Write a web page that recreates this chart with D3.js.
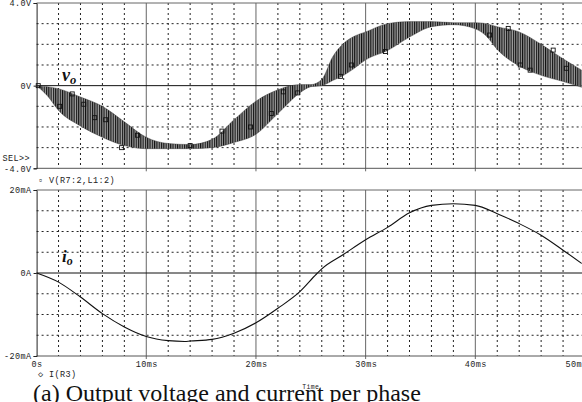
<!DOCTYPE html>
<html>
<head>
<meta charset="utf-8">
<script src="https://cdn.jsdelivr.net/npm/d3@7"></script>
<style>
  body { margin: 0; background: #fff; }
  svg { display: block; }
  .lbl { font-family: "Liberation Mono", monospace; font-size: 8.5px; fill: #222; letter-spacing: 0.4px; }
</style>
</head>
<body>
<div id="chart"></div>
<script>
// --- data ---
// voltage band: upper / lower envelope of the PWM ripple (V) at these times (ms)
const envT     = [0, 1, 2, 4, 6, 8, 10, 12, 14, 16, 18, 20, 22, 24, 25, 26, 27, 28, 29, 30, 32, 34, 36, 38, 40, 41, 42, 44, 46, 48, 49.7];
const envUpper = [0, -0.05, -0.15, -0.55, -1.0, -1.75, -2.5, -2.8, -2.85, -2.6, -1.65, -0.75, -0.2, 0.05, 0.05, 0.3, 1.4, 2.05, 2.4, 2.6, 3.0, 3.1, 3.1, 3.05, 3.05, 3.0, 2.85, 2.6, 2.0, 1.3, 0.75];
const envLower = [0, -0.5, -1.2, -1.95, -2.5, -2.9, -3.05, -3.05, -3.05, -3.0, -2.75, -2.35, -1.35, -0.35, -0.05, 0, 0.25, 0.5, 0.85, 1.25, 1.7, 2.35, 2.85, 2.95, 2.75, 2.4, 1.75, 0.95, 0.5, 0.2, -0.08];

// PSpice trace markers on V(R7:2,L1:2)
const vMarkT = [0.15, 2.1, 3.25, 4.3, 5.3, 6.3, 7.75, 9.2, 14, 16.9, 19.5, 21.4, 22.5, 23.8, 27.7, 28.7, 31.8, 41.3, 43, 44.1, 45, 47.1, 48.3];
const vMarkV = [0, -1.0, -0.4, -0.9, -1.55, -1.65, -3.0, -2.4, -2.9, -2.2, -2.0, -1.35, -0.3, -0.35, 0.45, 1.0, 1.65, 2.45, 2.77, 1.0, 0.75, 1.72, 0.84];

// output current I(R3) in mA
const curT = [0, 2, 4, 6, 8, 10, 12, 13.5, 14, 16, 18, 20, 22, 24, 25.5, 26, 28, 30, 32, 34, 36, 38, 40, 42, 44, 46, 48, 49.7];
const curI = [0, -2.2, -5.8, -9.8, -13, -15.3, -16.3, -16.5, -16.4, -16, -14.5, -12, -8.5, -4.5, -0.3, 1, 4.5, 8, 11, 14.5, 16.3, 16.7, 16.3, 14.3, 11.9, 9.1, 5.5, 2.3];

// tick values / labels
const timeTicks  = [0, 10, 20, 30, 40, 50];
const timeLabels = ['0s', '10ms', '20ms', '30ms', '40ms', '50ms'];
const vTicks  = [-4, 0, 4];
const vLabels = ['-4.0V', '0V', '4.0V'];
const iTicks  = [-20, 0, 20];
const iLabels = ['-20mA', '0A', '20mA'];

const W = 582, H = 402;
const svg = d3.select('#chart').append('svg').attr('width', W).attr('height', H);

const x  = d3.scaleLinear().domain([0, 50]).range([36.6, 585]);
const yV = d3.scaleLinear().domain([-4, 4]).range([168.3, 3]);
const yI = d3.scaleLinear().domain([-20, 20]).range([356, 190]);

// ripple hatch for the voltage band
const defs = svg.append('defs');
const pat = defs.append('pattern').attr('id', 'ripple')
  .attr('patternUnits', 'userSpaceOnUse').attr('width', 2.3).attr('height', 6);
pat.append('rect').attr('width', 2.3).attr('height', 6).attr('fill', '#9c9c9c');
pat.append('rect').attr('width', 1.1).attr('height', 6).attr('fill', '#111');

function panel(y, minorStep) {
  const [y0, y1] = y.range();   // bottom, top
  const g = svg.append('g');
  // dashed grid
  const vMinor = x.ticks(25).filter(d => d % 10 !== 0);
  g.selectAll('.vg').data(vMinor).join('line')
    .attr('x1', d => x(d)).attr('x2', d => x(d)).attr('y1', y1).attr('y2', y0)
    .attr('stroke', '#222').attr('stroke-dasharray', '2,3');
  const hMinor = d3.range(y.domain()[0] + minorStep, y.domain()[1], minorStep).filter(d => d !== 0);
  g.selectAll('.hg').data(hMinor).join('line')
    .attr('x1', x(0)).attr('x2', W).attr('y1', d => y(d)).attr('y2', d => y(d))
    .attr('stroke', '#222').attr('stroke-dasharray', '2,3');
  // solid major verticals
  g.selectAll('.vm').data(timeTicks.slice(1)).join('line')
    .attr('x1', d => x(d)).attr('x2', d => x(d)).attr('y1', y1).attr('y2', y0 + 3)
    .attr('stroke', '#666');
  // zero line
  g.append('line').attr('x1', x(0)).attr('x2', W).attr('y1', y(0)).attr('y2', y(0))
    .attr('stroke', '#111');
  // frame
  g.append('line').attr('x1', x(0)).attr('x2', W).attr('y1', y1).attr('y2', y1).attr('stroke', '#666');
  g.append('line').attr('x1', x(0)).attr('x2', W).attr('y1', y0).attr('y2', y0).attr('stroke', '#555');
  return g;
}

panel(yV, 1);
panel(yI, 5);

// y axes
function yAxis(y, ticks, labels) {
  const ax = svg.append('g').attr('transform', `translate(${x(0)},0)`)
    .call(d3.axisLeft(y).tickValues(ticks).tickSize(3).tickPadding(2)
      .tickFormat((d, i) => labels[i]));
  ax.select('.domain').attr('stroke', '#222');
  ax.selectAll('.tick line').attr('stroke', '#222');
  ax.selectAll('text').attr('class', 'lbl').attr('font-size', null).attr('font-family', null);
}
yAxis(yV, vTicks, vLabels);
yAxis(yI, iTicks, iLabels);

// x axis under the current panel
const xa = svg.append('g').attr('transform', `translate(0,${yI.range()[0]})`)
  .call(d3.axisBottom(x).tickValues(timeTicks).tickSize(0).tickPadding(5)
    .tickFormat((d, i) => timeLabels[i]));
xa.select('.domain').remove();
xa.selectAll('text').attr('class', 'lbl').attr('font-size', null).attr('font-family', null);
// PSpice pulls the last label in from the window edge
xa.selectAll('.tick').filter(d => d === 50).select('text').attr('text-anchor', 'start').attr('dx', -20);

// voltage band
const clip = defs.append('clipPath').attr('id', 'clipV');
clip.append('rect').attr('x', x(0)).attr('y', 3).attr('width', W).attr('height', 166);
const env = envT.map((t, i) => ({ t, hi: envUpper[i], lo: envLower[i] }));
svg.append('path').datum(env)
  .attr('clip-path', 'url(#clipV)')
  .attr('fill', 'url(#ripple)')
  .attr('stroke', '#333').attr('stroke-width', 0.4)
  .attr('d', d3.area().x(d => x(d.t)).y0(d => yV(d.lo)).y1(d => yV(d.hi)).curve(d3.curveMonotoneX));

svg.selectAll('.vmark').data(vMarkT).join('rect')
  .attr('x', d => x(d) - 2).attr('y', (d, i) => yV(vMarkV[i]) - 2)
  .attr('width', 4).attr('height', 4)
  .attr('fill', 'none').attr('stroke', '#111').attr('stroke-width', 0.9);

// current trace
svg.append('path').datum(curT.map((t, i) => [t, curI[i]]))
  .attr('fill', 'none').attr('stroke', '#111').attr('stroke-width', 1.1)
  .attr('d', d3.line().x(d => x(d[0])).y(d => yI(d[1])).curve(d3.curveMonotoneX));

// labels
svg.append('text').attr('class', 'lbl').attr('x', 30).attr('y', 161).attr('text-anchor', 'end').text('SEL>>');
svg.append('text').attr('class', 'lbl').attr('x', 38).attr('y', 183).text('\u25AB V(R7:2,L1:2)');
svg.append('text').attr('class', 'lbl').attr('x', 38).attr('y', 377).text('\u25C7 I(R3)');
svg.append('text').attr('class', 'lbl').attr('x', x(25)).attr('y', 389)
  .attr('text-anchor', 'middle').style('font-size', '6.5px').text('Time');

function symbol(xp, yp, main, sub, size) {
  const t = svg.append('text').attr('x', xp).attr('y', yp)
    .attr('font-family', '"Liberation Serif", serif').attr('font-weight', 'bold')
    .attr('font-style', 'italic').attr('font-size', size).attr('fill', '#111');
  t.append('tspan').text(main);
  t.append('tspan').attr('dy', 3).attr('font-size', size * 0.7).text(sub);
}
symbol(62, 81, 'v', 'o', 18);
symbol(62, 262, 'i', 'o', 17);

svg.append('text').attr('x', 33).attr('y', 401)
  .attr('font-family', '"Liberation Serif", serif').attr('font-size', 24).attr('fill', '#111')
  .text('(a) Output voltage and current per phase');
</script>
</body>
</html>
